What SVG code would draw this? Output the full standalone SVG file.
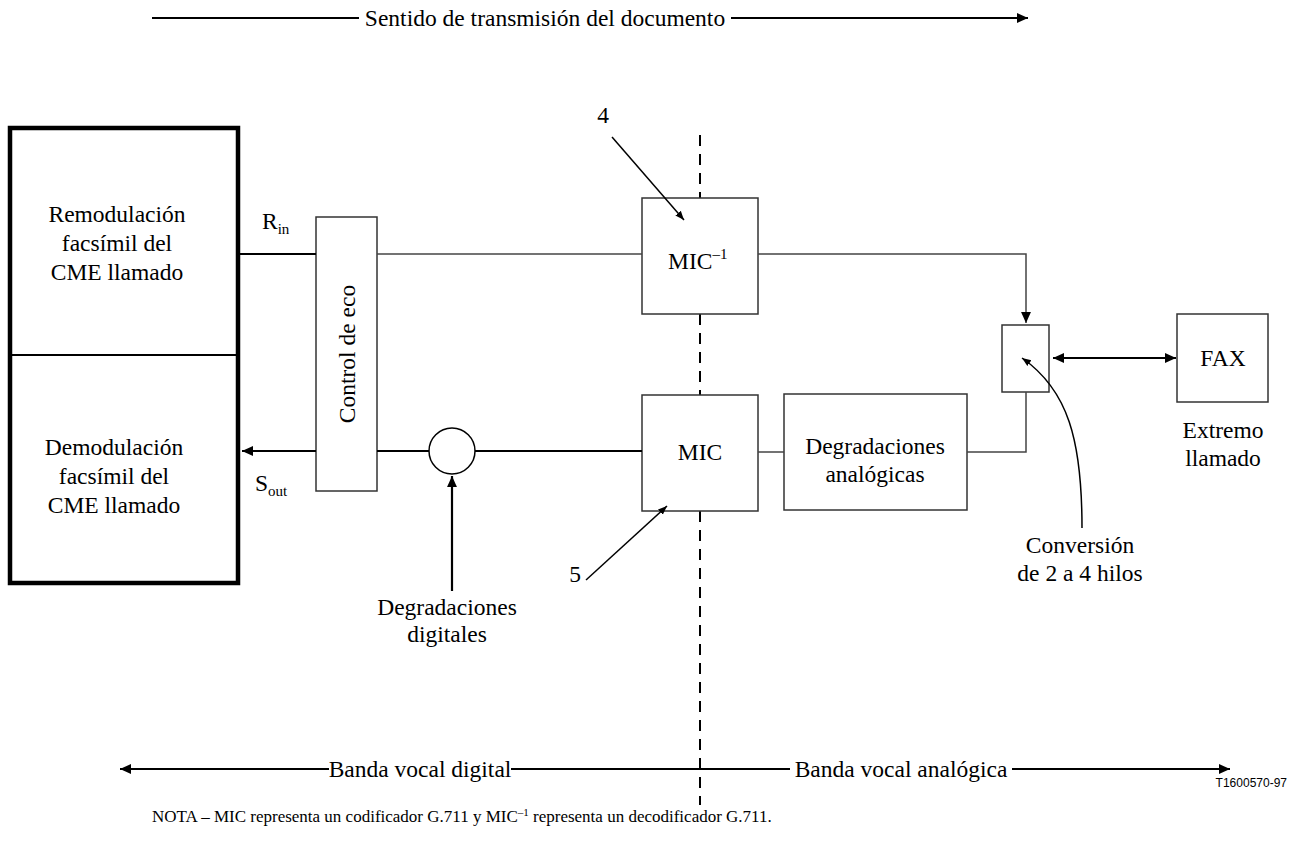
<svg xmlns="http://www.w3.org/2000/svg" width="1300" height="843" viewBox="0 0 1300 843" font-family="'Liberation Serif', 'Times New Roman', serif">
  <defs>
    <marker id="ah" viewBox="0 0 10 10" refX="10" refY="5" markerWidth="11" markerHeight="11" markerUnits="userSpaceOnUse" orient="auto-start-reverse">
      <path d="M0,0.5 L10,5 L0,9.5 z" fill="#000"/>
    </marker>
    <marker id="ahs" viewBox="0 0 10 10" refX="10" refY="5" markerWidth="9" markerHeight="9" markerUnits="userSpaceOnUse" orient="auto-start-reverse">
      <path d="M0,1 L10,5 L0,9 z" fill="#000"/>
    </marker>
  </defs>
  <style>
    text { font-family: "Liberation Serif", "Times New Roman", serif; font-size: 23.5px; fill: #000; }
    .c { text-anchor: middle; }
    .box { fill: #fff; stroke: #333; stroke-width: 1.5; }
    .thin { fill: none; stroke: #444; stroke-width: 1.5; }
    .thick { fill: none; stroke: #000; stroke-width: 2.2; }
    .lead { fill: none; stroke: #000; stroke-width: 1.5; }
    .dash { fill: none; stroke: #000; stroke-width: 2; stroke-dasharray: 11 8; }
    .sub { font-size: 15px; }
    .note { font-size: 17px; }
    .code { font-family: "Liberation Sans", Arial, sans-serif; font-size: 12px; }
  </style>
  <rect width="1300" height="843" fill="#fff"/>

  <!-- direction of transmission, caption sits on the line -->
  <g id="direccion">
    <line class="thick" x1="152" y1="18" x2="1028" y2="18" marker-end="url(#ah)"/>
    <rect x="359" y="4" width="372" height="28" fill="#fff"/>
    <text class="c" x="545" y="26" font-size="24.5">Sentido de transmisión del documento</text>
  </g>

  <!-- digital / analogue boundary -->
  <g id="divisor">
    <line class="dash" x1="700" y1="135" x2="700" y2="198"/>
    <line class="dash" x1="700" y1="314" x2="700" y2="395"/>
    <line class="dash" x1="700" y1="511" x2="700" y2="805"/>
  </g>

  <g id="bandas">
    <line class="thick" x1="120" y1="769" x2="1230" y2="769" marker-start="url(#ah)" marker-end="url(#ah)"/>
    <rect x="329" y="755" width="182" height="28" fill="#fff"/>
    <text class="c" x="420" y="777" font-size="24">Banda vocal digital</text>
    <rect x="790" y="755" width="222" height="28" fill="#fff"/>
    <text class="c" x="901" y="777" font-size="24">Banda vocal analógica</text>
  </g>

  <g id="cme">
    <rect x="10" y="128" width="228" height="455" fill="#fff" stroke="#000" stroke-width="4.5"/>
    <line x1="10" y1="355" x2="238" y2="355" stroke="#000" stroke-width="2"/>
    <text class="c" x="117" y="222">Remodulación</text>
    <text class="c" x="117" y="251">facsímil del</text>
    <text class="c" x="117" y="280">CME llamado</text>
    <text class="c" x="114" y="455">Demodulación</text>
    <text class="c" x="114" y="484">facsímil del</text>
    <text class="c" x="114" y="513">CME llamado</text>
  </g>

  <g id="rin">
    <text x="262" y="229">R<tspan class="sub" dy="5">in</tspan></text>
  </g>
  <g id="sout">
    <text x="255" y="491">S<tspan class="sub" dy="5">out</tspan></text>
  </g>

  <g id="control-eco">
    <rect class="box" x="316" y="217" width="61" height="274"/>
    <text class="c" transform="translate(355,354) rotate(-90)">Control de eco</text>
  </g>

  <g id="sumador">
    <circle cx="452" cy="451" r="23" fill="#fff" stroke="#000" stroke-width="1.5"/>
  </g>

  <g id="degr-digitales">
    <text class="c" x="447" y="615">Degradaciones</text>
    <text class="c" x="447" y="642">digitales</text>
  </g>

  <g id="mic-inv">
    <rect class="box" x="642" y="198" width="116" height="116"/>
    <text x="668" y="269">MIC<tspan class="sub" dy="-10">–1</tspan></text>
  </g>
  <g id="ref4"><text class="c" x="603" y="123">4</text></g>

  <g id="mic">
    <rect class="box" x="642" y="395" width="116" height="116"/>
    <text class="c" x="700" y="460">MIC</text>
  </g>
  <g id="ref5"><text class="c" x="575" y="582">5</text></g>

  <g id="degr-analogicas">
    <rect class="box" x="784" y="394" width="183" height="116"/>
    <text class="c" x="875" y="454">Degradaciones</text>
    <text class="c" x="875" y="482">analógicas</text>
  </g>

  <g id="hibrido">
    <rect class="box" x="1002" y="325" width="47" height="67"/>
  </g>
  <g id="conversion">
    <text class="c" x="1080" y="553">Conversión</text>
    <text class="c" x="1080" y="581">de 2 a 4 hilos</text>
  </g>

  <g id="fax">
    <rect class="box" x="1177" y="314" width="91" height="88"/>
    <text class="c" x="1223" y="366">FAX</text>
    <text class="c" x="1223" y="438">Extremo</text>
    <text class="c" x="1223" y="466">llamado</text>
  </g>

  <g id="pie">
    <text class="code" x="1287" y="787" text-anchor="end">T1600570-97</text>
    <text class="note" x="152" y="822">NOTA – MIC representa un codificador G.711 y MIC<tspan font-size="11" dy="-6">–1</tspan><tspan dy="6"> representa un decodificador G.711.</tspan></text>
  </g>

  <!-- signal paths and leader arrows -->
  <g id="conexiones">
    <line class="thick" x1="240" y1="254" x2="316" y2="254"/>
    <line class="thin" x1="377" y1="254" x2="642" y2="254"/>
    <polyline class="thin" points="758,254 1026,254 1026,323" marker-end="url(#ah)"/>
    <line class="thick" x1="316" y1="451" x2="242" y2="451" marker-end="url(#ah)"/>
    <line class="thick" x1="377" y1="451" x2="429" y2="451"/>
    <line class="thick" x1="475" y1="451" x2="642" y2="451"/>
    <line class="thick" x1="452" y1="591" x2="452" y2="476" marker-end="url(#ah)"/>
    <line class="thin" x1="758" y1="452" x2="784" y2="452"/>
    <polyline class="thin" points="967,452 1026,452 1026,392"/>
    <line class="thick" x1="1053" y1="358" x2="1176" y2="358" marker-start="url(#ah)" marker-end="url(#ah)"/>
    <line class="lead" x1="612" y1="137" x2="684" y2="220" marker-end="url(#ahs)"/>
    <line class="lead" x1="586" y1="580" x2="667" y2="506" marker-end="url(#ahs)"/>
    <path class="lead" d="M1082,528 C1082,440 1068,390 1022,358" marker-end="url(#ahs)"/>
  </g>
</svg>
